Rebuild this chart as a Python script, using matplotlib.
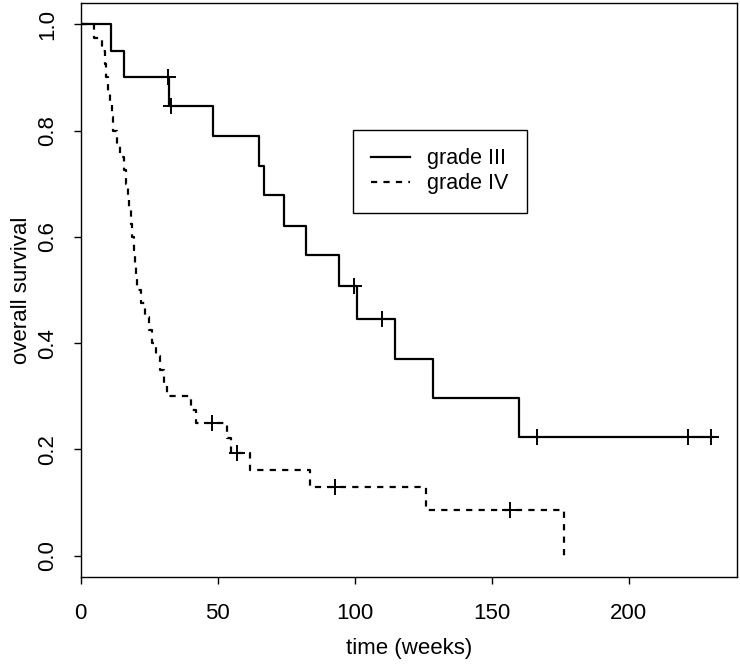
import matplotlib
matplotlib.use('Agg')
import matplotlib.pyplot as plt

plt.rcParams['font.family'] = ['Liberation Sans', 'DejaVu Sans']

# grade III: step times and survival
g3_times = [0, 11.1, 15.7, 32.2, 48.4, 65.2, 67.0, 74.1, 82.1, 94.4, 100.7, 114.8, 128.6, 160.1]
g3_surv = [1.0, 0.950, 0.900, 0.847, 0.790, 0.734, 0.678, 0.621, 0.565, 0.508, 0.445, 0.371, 0.297, 0.223]
g3_end = 230.6
g3_cens_t = [31.8, 32.8, 99.9, 110.0, 166.4, 221.5, 229.9]
g3_cens_s = [0.900, 0.847, 0.508, 0.445, 0.223, 0.223, 0.223]

# grade IV
g4_times = [0, 4.9, 7.9, 8.7, 9.4, 10.1, 10.7, 11.4, 11.9, 13.2, 14.4, 15.9, 16.5, 17.1, 17.7,
            18.3, 18.9, 19.4, 19.9, 20.3, 20.7, 22.0, 23.5, 24.9, 26.0, 27.6, 29.0, 30.4, 31.6,
            40.3, 42.2, 53.3, 54.7, 61.6, 83.5, 125.9, 176.2]
g4_surv = [1.0, 0.975, 0.950, 0.925, 0.900, 0.875, 0.850, 0.825, 0.800, 0.775, 0.750, 0.725,
           0.700, 0.675, 0.650, 0.625, 0.600, 0.575, 0.550, 0.525, 0.500, 0.475, 0.450, 0.425,
           0.400, 0.375, 0.350, 0.325, 0.300, 0.275, 0.250, 0.222, 0.194, 0.162, 0.130, 0.086, 0.0]
g4_cens_t = [47.8, 57.1, 92.9, 156.5]
g4_cens_s = [0.250, 0.194, 0.130, 0.086]

xticks = [0, 50, 100, 150, 200]
yticks = [0.0, 0.2, 0.4, 0.6, 0.8, 1.0]
ytick_labels = ['0.0', '0.2', '0.4', '0.6', '0.8', '1.0']

fig = plt.figure(figsize=(7.4, 6.64), dpi=100)
ax = fig.add_axes([80.7/740, 87/664, (737-80.7)/740, 574/664])

lw = 1.6
ax.step(g3_times + [g3_end], g3_surv + [g3_surv[-1]], where='post', color='black', lw=lw,
        label='grade III')
ax.step(g4_times, g4_surv, where='post', color='black', lw=lw, dashes=(2.8, 2.8),
        label='grade IV')
#censor marks
ax.plot(g3_cens_t, g3_cens_s, ls='none', marker='+', ms=11, mew=1.4, color='black')
ax.plot(g4_cens_t, g4_cens_s, ls='none', marker='+', ms=11, mew=1.4, color='black')

ax.set_xlim(0, 239.5)
ax.set_ylim(-0.04, 1.04)
ax.set_xticks(xticks)
ax.set_yticks(yticks)
ax.set_yticklabels(ytick_labels, rotation=90, va='center')
ax.tick_params(direction='out', length=5, width=1, labelsize=16, pad=14)
ax.tick_params(axis='y', pad=11)
for s in ax.spines.values():
    s.set_linewidth(1)

ax.set_xlabel('time (weeks)', fontsize=16, labelpad=10)
ax.set_ylabel('overall survival', fontsize=16, labelpad=4)

leg = ax.legend(loc='upper left', bbox_to_anchor=(0.415, 0.779), borderaxespad=0,
                fontsize=15.5, fancybox=False, edgecolor='black', framealpha=1,
                handlelength=1.8, borderpad=0.85, labelspacing=0.2, handletextpad=0.8)
leg.get_frame().set_linewidth(1)

fig.savefig('out.png', dpi=100)
